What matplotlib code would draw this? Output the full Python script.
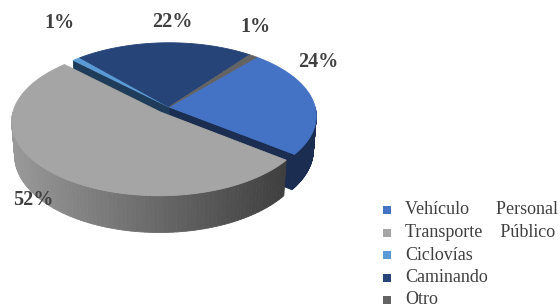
import numpy as np
import matplotlib.pyplot as plt
from matplotlib.patches import Polygon

# datos
categorias = ['Vehículo Personal', 'Transporte Público', 'Ciclovías', 'Caminando', 'Otro']
valores = [24, 52, 1, 22, 1]
etiquetas = ['24%', '52%', '1%', '22%', '1%']

col_top = ['#4472c4', '#a5a5a5', '#5b9bd5', '#264478', '#636363']
col_side = ['#1b2e52', '#5a5a5a', '#1f3d5a', '#1f3d5a', '#3a3a3a']

# camara del pastel 3D (pantalla en pixeles)
CX, CY = 169, 107
PHI = np.radians(29.6)   # inclinacion
D, F = 7.05, 1030.0      # distancia y focal (perspectiva)
H = 0.27                 # grosor del pastel
START = 41.0             # angulo de la primera porcion (grados, horario desde arriba)
EXPLODE = {1: 0.09}      # transporte publico separado

def proy(X, Y, Z):
    d = D + Y * np.cos(PHI) - Z * np.sin(PHI)
    sx = F * X / d
    sy = F * (Y * np.sin(PHI) + Z * np.cos(PHI)) / d
    return CX + sx, CY - sy

fig = plt.figure(figsize=(5.6, 3.08), dpi=100)
ax = fig.add_axes([0, 0, 1, 1])
ax.set_xlim(0, 560)
ax.set_ylim(308, 0)
ax.axis('off')

ang = START + 360 * np.concatenate([[0], np.cumsum(valores)]) / sum(valores)

def centro(i):
    e = EXPLODE.get(i, 0)
    m = np.radians((ang[i] + ang[i + 1]) / 2)
    return e * np.sin(m), e * np.cos(m)

def borde(i, ts, z):
    ox, oy = centro(i)
    t = np.radians(ts)
    return proy(ox + np.sin(t), oy + np.cos(t), z)

def paredes(i):
    t1, t2 = ang[i], ang[i + 1]
    lo, hi = max(t1, 90), min(t2, 270)
    if hi > lo:
        ts = np.linspace(lo, hi, 90)
        xs, ys = borde(i, ts, 0)
        xb, yb = borde(i, ts, -H)
        for k in range(len(ts) - 1):
            if i == 1:
                f = np.clip((xs[k] - 12) / 280, 0, 1)
                g = 0.60 - 0.36 * f
                c = (g, g, g)
            else:
                c = col_side[i]
            poly = [(xs[k], ys[k]), (xs[k + 1], ys[k + 1]),
                    (xb[k + 1], yb[k + 1]), (xb[k], yb[k])]
            ax.add_patch(Polygon(poly, closed=True, fc=c, ec=c, lw=0.6))

def cara(i, t):
    ox, oy = centro(i)
    x0, y0 = proy(ox, oy, 0)
    x1, y1 = proy(ox, oy, -H)
    xs, ys = borde(i, np.array([t]), 0)
    xb, yb = borde(i, np.array([t]), -H)
    poly = [(x0, y0), (xs[0], ys[0]), (xb[0], yb[0]), (x1, y1)]
    ax.add_patch(Polygon(poly, closed=True, fc=col_side[i], ec=col_side[i], lw=0.6))

def tapa(i):
    ox, oy = centro(i)
    ts = np.linspace(ang[i], ang[i + 1], 150)
    xs, ys = borde(i, ts, 0)
    x0, y0 = proy(ox, oy, 0)
    pts = [(x0, y0)] + list(zip(xs, ys))
    ax.add_patch(Polygon(pts, closed=True, fc=col_top[i], ec=col_top[i], lw=0.6))

resto = [0, 2, 3, 4]
for i in resto:
    paredes(i)
cara(0, ang[1])
cara(2, ang[2])
for i in resto:
    tapa(i)
paredes(1)
tapa(1)

# etiquetas de porcentaje
pos_etq = [(318, 62), (33, 200), (59, 23), (172, 22), (255, 27)]
for (x, y), s in zip(pos_etq, etiquetas):
    ax.text(x, y, s, ha='center', va='center', fontsize=14.5, fontweight='bold',
            family='Liberation Serif', color='#404040')

# leyenda
ley_txt = ['Vehículo      Personal', 'Transporte    Público', 'Ciclovías', 'Caminando', 'Otro']
for k, (s, c) in enumerate(zip(ley_txt, col_top)):
    y = 210 + k * 22.5
    ax.scatter([387], [y], marker='s', s=30, color=c, linewidths=0)
    ax.text(405, y, s, ha='left', va='center', fontsize=13,
            family='Liberation Serif', color='#404040')

fig.savefig('out.png', dpi=100)
